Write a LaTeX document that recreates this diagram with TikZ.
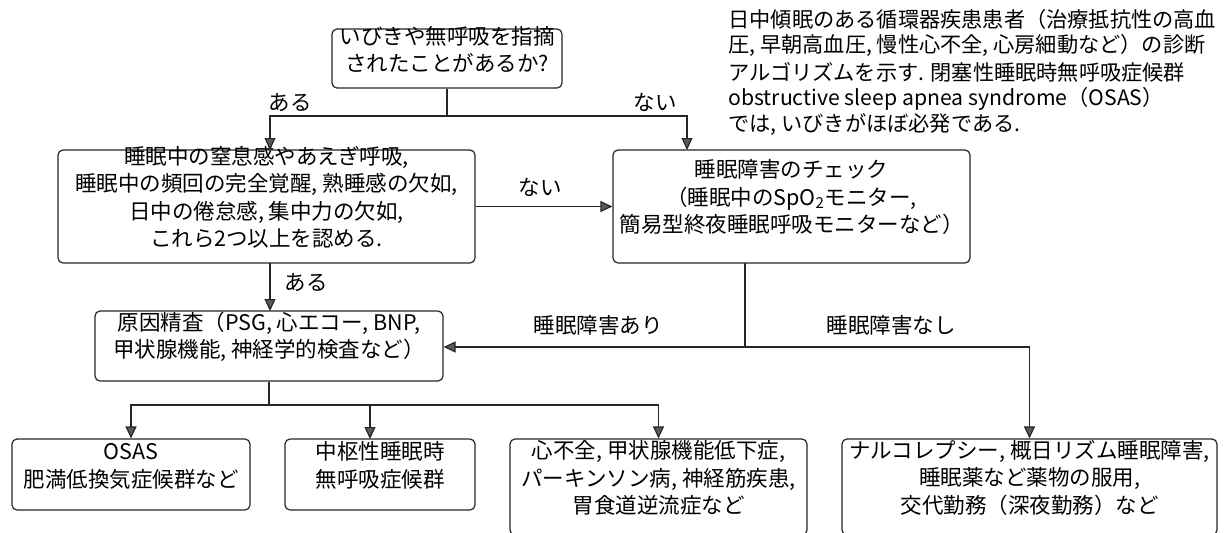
\documentclass[tikz,border=0pt]{standalone}
\usepackage{fontspec}
\setmainfont{Noto Sans CJK JP}
\usetikzlibrary{arrows.meta,fit}
\newcommand\flowfont{\fontsize{10.75pt}{13.75pt}\selectfont}
\newcommand\descfont{\fontsize{10.6pt}{13.25pt}\selectfont}
\begin{document}
\begin{tikzpicture}[x=0.5pt,y=-0.5pt,
  ln/.style={line width=0.6pt, draw=black!85},
  box/.style={ln, rounded corners=2.5pt, inner sep=0pt, align=center, font=\flowfont},
  arr/.style={ln, -{Triangle[width=5.5pt,length=6pt,fill=black!65]}},
  lbl/.style={inner sep=0pt, font=\flowfont},
  desc/.style={inner sep=0pt, anchor=west, font=\descfont}]
\fill[white] (0,0) rectangle (1225,532);
\clip (0,0) rectangle (1225,532);

% description
\node[desc] (d1) at (728,19) {日中傾眠のある循環器疾患患者（治療抵抗性の高血};
\node[desc] (d2) at (728,45.5) {圧, 早朝高血圧, 慢性心不全, 心房細動など）の診断};
\node[desc] (d3) at (728,72) {アルゴリズムを示す. 閉塞性睡眠時無呼吸症候群};
\node[desc] (d4) at (728,98.5) {obstructive sleep apnea syndrome（OSAS）};
\node[desc] (d5) at (728,125) {では, いびきがほぼ必発である.};

% boxes
\node[box, fit={(332,29) (562,88)}] (T) {いびきや無呼吸を指摘\\されたことがあるか?};
\node[box, fit={(58,150) (475,263)}] (L) {睡眠中の窒息感やあえぎ呼吸,\\睡眠中の頻回の完全覚醒, 熟睡感の欠如,\\日中の倦怠感, 集中力の欠如,\\これら2つ以上を認める.};
\node[box, fit={(613,150) (970,263)}] (R) {睡眠障害のチェック\\（睡眠中のSpO\textsubscript{2}モニター,\\簡易型終夜睡眠呼吸モニターなど）};
\node[box, fit={(95,311) (443,381)}] (G) {原因精査（PSG, 心エコー, BNP,\\甲状腺機能, 神経学的検査など）};
\node[box, fit={(12,439) (250,510)}] (B1) {OSAS\\肥満低換気症候群など};
\node[box, fit={(285,439) (475,510)}] (B2) {中枢性睡眠時\\無呼吸症候群};
\node[box, fit={(510,439) (807,535)}] (B3) {心不全, 甲状腺機能低下症,\\パーキンソン病, 神経筋疾患,\\胃食道逆流症など};
\node[box, fit={(842,439) (1217,535)}] (B4) {ナルコレプシー, 概日リズム睡眠障害,\\睡眠薬など薬物の服用,\\交代勤務（深夜勤務）など};

% labels
\node[lbl] (l1) at (290,102) {ある};
\node[lbl] (l2) at (655,102) {ない};
\node[lbl] (l3) at (540,187) {ない};
\node[lbl] (l4) at (306,282) {ある};
\node[lbl] (l5) at (598,325) {睡眠障害あり};
\node[lbl] (l6) at (891,325) {睡眠障害なし};

% junction coordinates
\coordinate (j1) at (447,116);
\coordinate (a1) at (270,150);
\coordinate (a2) at (687,150);
\coordinate (b1) at (270,263);
\coordinate (b2) at (270,311);
\coordinate (r1) at (745,263);
\coordinate (j2) at (745,347);
\coordinate (j3) at (269,405);
\coordinate (c2) at (370,439);

% connectors
\draw[ln] (T.south) -- (j1);
\draw[arr] (j1) -| (a1);
\draw[arr] (j1) -| (a2);
\draw[arr] (L.east) -- (R.west);
\draw[arr] (b1) -- (b2);
\draw[ln] (r1) -- (j2);
\draw[arr] (j2) -- (G.east |- j2);
\draw[arr] (j2) -| (B4.north);
\draw[ln] (G.south) -- (j3);
\draw[arr] (j3) -| (B1.north);
\draw[arr] (j3) -| (c2);
\draw[arr] (j3) -| (B3.north);
\end{tikzpicture}
\end{document}
